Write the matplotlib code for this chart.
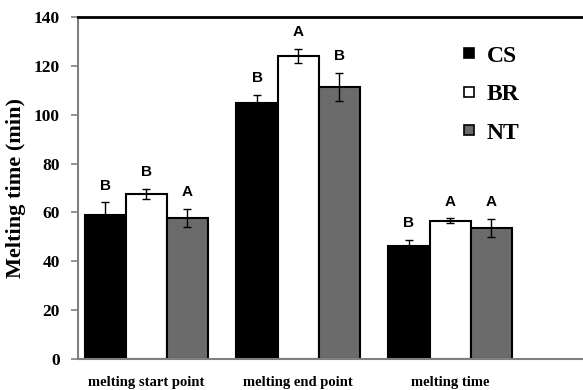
import matplotlib
matplotlib.use("Agg")
import matplotlib.pyplot as plt
from matplotlib.lines import Line2D
import numpy as np

categories = ["melting start point", "melting end point", "melting time"]
series = ["CS", "BR", "NT"]
cs_vals = [59.1, 105.0, 46.3]
cs_err = [5.0, 3.2, 2.5]
br_vals = [67.5, 124.0, 56.6]
br_err = [2.2, 2.9, 1.0]
nt_vals = [57.8, 111.3, 53.6]
nt_err = [3.7, 5.7, 3.7]
cs_letters = ["B", "B", "B"]
br_letters = ["B", "A", "A"]
nt_letters = ["A", "B", "A"]

colors = ["black", "white", "#6b6b6b"]
serif = ["Liberation Serif", "DejaVu Serif"]

fig = plt.figure(figsize=(5.83, 3.90), dpi=100)
ax = fig.add_axes([0.134, 0.0795, 0.866, 0.8769])

x = np.arange(len(categories))
w = 0.27
vals = [cs_vals, br_vals, nt_vals]
errs = [cs_err, br_err, nt_err]
letters = [cs_letters, br_letters, nt_letters]

for i in range(3):
    xs = x + (i - 1) * w
    ax.bar(xs, vals[i], w, color=colors[i], edgecolor="black", linewidth=1.5,
           zorder=2)
    ax.errorbar(xs, vals[i], yerr=errs[i], fmt="none", ecolor="black",
                elinewidth=1, capsize=3, capthick=1, zorder=3)
    for xi, v, e, t in zip(xs, vals[i], errs[i], letters[i]):
        ax.text(xi, v + e + 4, t, ha="center", va="bottom",
                fontsize=11, fontweight="bold", family="Liberation Sans")

ax.set_xlim(-0.447, 2.875)
ax.set_ylim(0, 140)
ax.set_yticks(range(0, 141, 20))
ax.set_xticks(x)
ax.set_xticklabels(categories, fontsize=10.5, fontweight="bold", family=serif)
for lab in ax.get_yticklabels():
    lab.set_fontsize(12.5)
    lab.set_fontweight("bold")
    lab.set_family(serif)
ax.tick_params(axis="x", length=0, pad=12)
ax.tick_params(axis="y", length=5, color="#808080", width=1.2, pad=8)
ax.set_ylabel("Melting time (min)", fontsize=16, fontweight="bold",
              family=serif, labelpad=6)

ax.spines["right"].set_visible(False)
ax.spines["top"].set_color("black")
ax.spines["top"].set_linewidth(2)
ax.spines["left"].set_color("#808080")
ax.spines["left"].set_linewidth(1.5)
ax.spines["bottom"].set_color("#808080")
ax.spines["bottom"].set_linewidth(1.5)

handles = [Line2D([], [], linestyle="none", marker="s", markersize=7,
                  markerfacecolor=c, markeredgecolor="black", markeredgewidth=1.2)
           for c in colors]
ax.legend(handles, series, loc="upper left", bbox_to_anchor=(0.76, 0.918),
          frameon=False, prop={"family": serif, "weight": "bold", "size": 17},
          handlelength=0.6, handletextpad=0.45, labelspacing=0.72,
          borderaxespad=0, borderpad=0)

fig.savefig("out.png", dpi=100)
